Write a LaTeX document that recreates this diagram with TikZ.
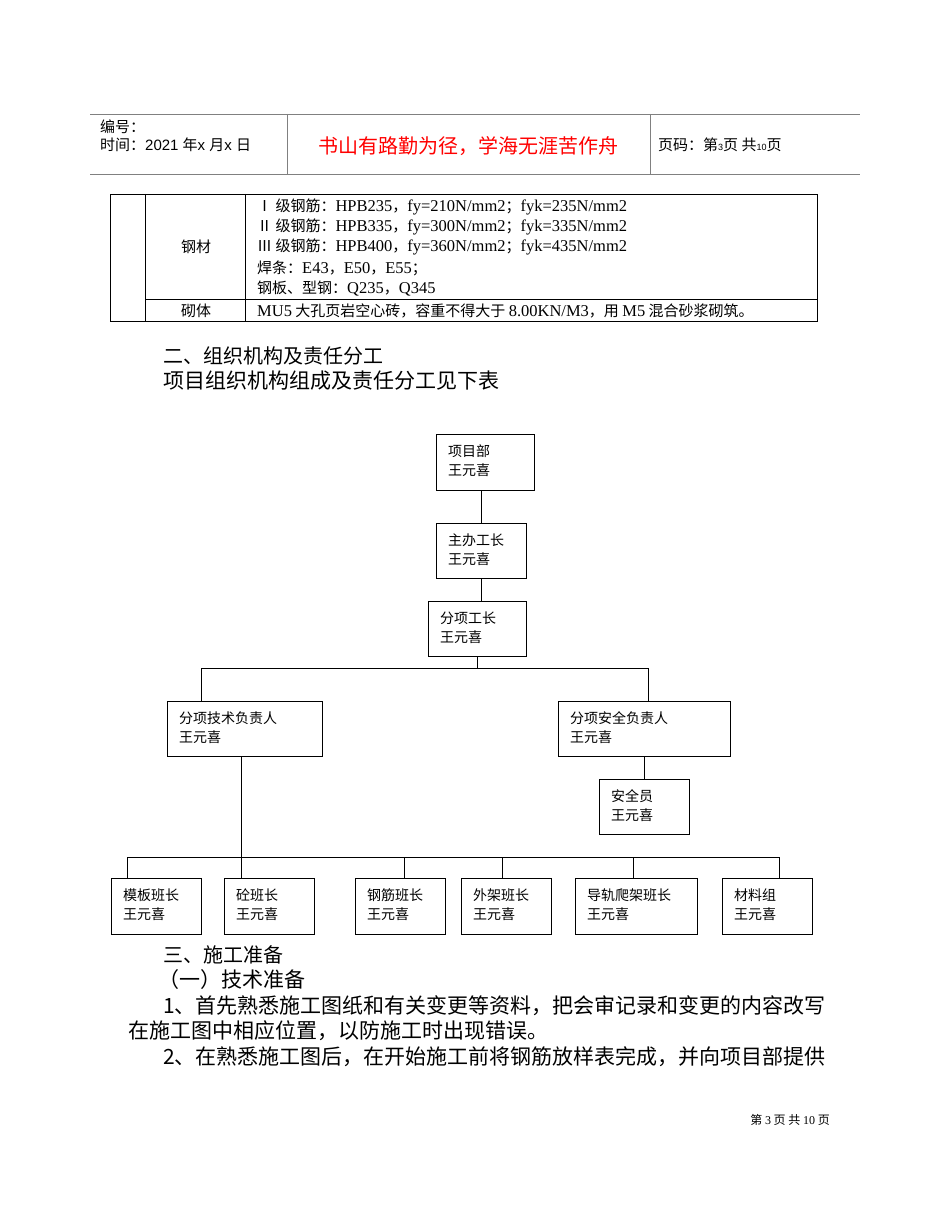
\documentclass[tikz,border=0pt]{standalone}
\usepackage{fontspec}
\setmainfont{Liberation Serif}
\newfontfamily\cjk{Noto Sans CJK SC}
\newfontfamily\hd{Liberation Sans}
\begin{document}
\begin{tikzpicture}[x=1pt,y=-1pt,
  bx/.style={draw,thick,anchor=north west,inner sep=0},
  lbl/.style={anchor=west,inner sep=0,font=\cjk\fontsize{14}{19}\selectfont,align=left},
  ln/.style={thick},
  tx/.style={anchor=west,inner sep=0,font=\cjk\fontsize{15}{16}\selectfont},
  bd/.style={anchor=west,inner sep=0,font=\cjk\fontsize{20}{22}\selectfont},
  bs/.style={anchor=west,inner sep=0,font=\cjk\fontsize{21}{22}\selectfont}]
\useasboundingbox[fill=white] (0,0) rectangle (950,1230);
% header
\draw[gray,thick] (90,114) -- (860,114) (90,174) -- (860,174) (287,114) -- (287,174) (650,114) -- (650,174);
\node[tx] (h1) at (100,127) {编号：};
\node[tx] (h2) at (100,145) {时间：{\hd 2021 }年{\hd  x }月{\hd  x }日};
\node[inner sep=0,text=red,font=\cjk\fontsize{20}{22}\selectfont] (h3) at (468,146) {书山有路勤为径，学海无涯苦作舟};
\node[tx] (h4) at (658,145) {页码：第{\hd\small 3}页 共{\hd\small 10}页};
% table
\draw[thick] (110,194) rectangle (817,321) (145,194) -- (145,321) (245,194) -- (245,321) (145,299) -- (817,299);
\node[inner sep=0,font=\cjk\fontsize{15}{16}\selectfont] (t1) at (196,247) {钢材};
\node[inner sep=0,font=\cjk\fontsize{15}{16}\selectfont] (t2) at (196,311) {砌体};
\newcommand\rr[1]{{\rmfamily\fontsize{16.5}{16}\selectfont #1}}
\node[tx] (r1) at (257,207) {Ⅰ 级钢筋：\rr{HPB235}，\rr{fy=210N/mm2}；\rr{fyk=235N/mm2}};
\node[tx] (r2) at (257,227) {Ⅱ 级钢筋：\rr{HPB335}，\rr{fy=300N/mm2}；\rr{fyk=335N/mm2}};
\node[tx] (r3) at (257,247) {Ⅲ 级钢筋：\rr{HPB400}，\rr{fy=360N/mm2}；\rr{fyk=435N/mm2}};
\node[tx] (r4) at (257,268) {焊条：\rr{E43}，\rr{E50}，\rr{E55}；};
\node[tx] (r5) at (257,289) {钢板、型钢：\rr{Q235}，\rr{Q345}};
\node[tx] (r6) at (257,311) {\rr{MU5} 大孔页岩空心砖，容重不得大于 \rr{8.00KN/M3}，用 \rr{M5} 混合砂浆砌筑。};
% headings
\node[bd] (s1) at (163,356) {二、组织机构及责任分工};
\node[bs] (s2) at (163,381) {项目组织机构组成及责任分工见下表};
% org chart boxes
\newcommand\obox[6]{\node[bx,minimum width=#4,minimum height=#5] (#1) at (#2,#3) {};
  \node[lbl] at (#2+12,#3+27) {#6\\王元喜};}
\obox{pd}{436}{434}{98}{56}{项目部}
\obox{zb}{436}{523}{90}{55}{主办工长}
\obox{fx}{428}{601}{98}{55}{分项工长}
\obox{js}{167}{701}{155}{55}{分项技术负责人}
\obox{aq}{558}{701}{172}{55}{分项安全负责人}
\obox{ay}{599}{779}{90}{55}{安全员}
\obox{b1}{111}{878}{90}{56}{模板班长}
\obox{b2}{224}{878}{90}{56}{砼班长}
\obox{b3}{355}{878}{90}{56}{钢筋班长}
\obox{b4}{461}{878}{90}{56}{外架班长}
\obox{b5}{575}{878}{122}{56}{导轨爬架班长}
\obox{b6}{722}{878}{90}{56}{材料组}
\coordinate (bus1) at (477,668);
\coordinate (bus2) at (241,857);
\draw[ln] (pd.south -| zb.south) -- (zb.north);
\draw[ln] (zb.south) -- (zb.south |- fx.north);
\draw[ln] (fx.south -| bus1) -- (bus1);
\draw[ln] (201,668) -- (648,668);
\draw[ln] (201,668) -- (201,701);
\draw[ln] (648,668) -- (648,701);
\draw[ln] (aq.south -| 644,0) -- (ay.north -| 644,0);
\draw[ln] (js.south -| bus2) -- (bus2);
\draw[ln] (127,857) -- (779,857);
\foreach \x/\b in {127/b1,241/b2,404/b3,502/b4,633/b5,779/b6}
  \draw[ln] (\x,857) -- (\b.north -| \x,0);
% text below
\node[bd] (p1) at (163,955) {三、施工准备};
\node[bs] (p2) at (158,980) {（一）技术准备};
\node[bs] (p3) at (163,1006) {1、首先熟悉施工图纸和有关变更等资料，把会审记录和变更的内容改写};
\node[bs] (p4) at (128,1031) {在施工图中相应位置，以防施工时出现错误。};
\node[bs] (p5) at (163,1057) {2、在熟悉施工图后，在开始施工前将钢筋放样表完成，并向项目部提供};
\node[anchor=east,inner sep=0,font=\cjk\fontsize{12}{14}\selectfont] (ft) at (830,1120) {第 {\rmfamily 3} 页 共 {\rmfamily 10} 页};
\end{tikzpicture}
\end{document}
